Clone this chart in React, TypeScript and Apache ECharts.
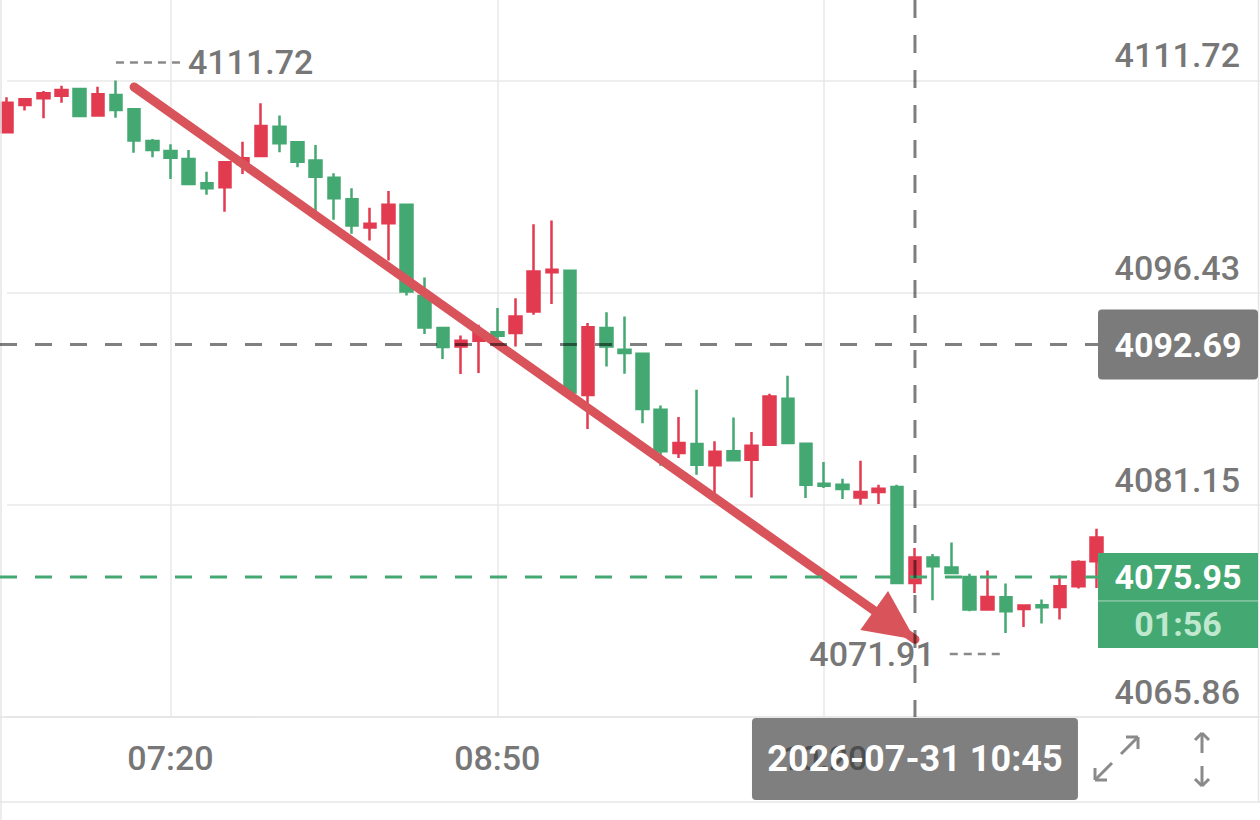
import React, { useEffect, useRef } from 'react';
import * as echarts from 'echarts';

const times = [
  '06:35', '06:40', '06:45', '06:50', '06:55', '07:00', '07:05', '07:10', '07:15', '07:20',
  '07:25', '07:30', '07:35', '07:40', '07:45', '07:50', '07:55', '08:00', '08:05', '08:10',
  '08:15', '08:20', '08:25', '08:30', '08:35', '08:40', '08:45', '08:50', '08:55', '09:00',
  '09:05', '09:10', '09:15', '09:20', '09:25', '09:30', '09:35', '09:40', '09:45', '09:50',
  '09:55', '10:00', '10:05', '10:10', '10:15', '10:20', '10:25', '10:30', '10:35', '10:40',
  '10:45', '10:50', '10:55', '11:00', '11:05', '11:10', '11:15', '11:20', '11:25', '11:30',
  '11:35', '11:40', '11:45', '11:50', '11:55', '12:00', '12:05', '12:10', '12:15', '12:20',
];

const opens = [
  4107.99, 4109.96, 4110.44, 4110.63, 4111.11, 4109.19, 4110.68, 4109.65, 4107.36, 4106.64,
  4106.07, 4104.32, 4104.03, 4105.71, 4106.28, 4108.39, 4107.27, 4105.95, 4104.72, 4103.17,
  4101.12, 4101.44, 4102.76, 4096.2, 4093.88, 4092.56, 4092.97, 4093.59, 4093.52, 4095.08,
  4097.91, 4098.01, 4089.06, 4093.88, 4092.32, 4092.03, 4088.0, 4084.88, 4085.53, 4083.99,
  4085.0, 4084.4, 4085.48, 4088.79, 4085.55, 4082.67, 4082.6, 4081.68, 4082.07, 4082.43,
  4075.52, 4077.36, 4076.64, 4075.95, 4073.6, 4074.48, 4073.65, 4073.91, 4073.79, 4075.28,
  4077.08,
];
const closes = [
  4110.12, 4110.37, 4110.8, 4111.04, 4109.16, 4110.73, 4109.6, 4107.39, 4106.72, 4106.16,
  4104.27, 4103.96, 4105.83, 4106.12, 4108.44, 4107.2, 4105.87, 4104.79, 4103.24, 4101.27,
  4101.39, 4102.76, 4096.51, 4093.92, 4092.51, 4092.97, 4093.64, 4093.33, 4094.72, 4097.96,
  4098.08, 4089.24, 4093.95, 4092.56, 4092.08, 4088.05, 4085.0, 4085.6, 4084.04, 4084.97,
  4084.35, 4085.41, 4088.96, 4085.6, 4082.6, 4082.53, 4082.29, 4082.07, 4082.31, 4075.52,
  4077.36, 4076.72, 4076.24, 4073.6, 4074.51, 4073.48, 4073.89, 4073.77, 4075.28, 4077.03,
  4078.8,
];
const lows = [
  4107.92, 4109.55, 4109.0, 4110.12, 4109.11, 4109.15, 4109.04, 4106.52, 4106.19, 4104.63,
  4104.2, 4103.48, 4102.27, 4104.99, 4106.25, 4106.55, 4105.47, 4102.04, 4101.68, 4100.67,
  4100.19, 4098.75, 4096.23, 4093.45, 4091.65, 4090.57, 4090.64, 4092.68, 4092.56, 4094.84,
  4095.61, 4088.96, 4086.61, 4091.12, 4090.59, 4087.03, 4083.97, 4084.52, 4083.32, 4082.0,
  4084.3, 4081.68, 4085.45, 4085.55, 4081.64, 4082.36, 4081.57, 4081.16, 4081.21, 4075.47,
  4074.8, 4074.27, 4076.2, 4073.48, 4073.53, 4071.91, 4072.35, 4072.59, 4072.88, 4075.11,
  4075.16,
];
const highs = [
  4110.51, 4110.45, 4110.96, 4111.35, 4111.16, 4111.27, 4111.72, 4109.67, 4107.51, 4107.13,
  4106.72, 4105.15, 4105.87, 4107.31, 4110.08, 4109.19, 4107.36, 4107.08, 4105.04, 4103.96,
  4102.56, 4103.76, 4102.81, 4097.52, 4093.9, 4093.35, 4094.12, 4095.32, 4096.04, 4101.37,
  4101.63, 4098.05, 4094.24, 4095.03, 4094.72, 4092.05, 4088.31, 4087.47, 4089.44, 4085.72,
  4087.44, 4086.39, 4089.15, 4090.45, 4085.6, 4084.23, 4083.03, 4084.33, 4082.6, 4082.6,
  4078.04, 4077.61, 4078.44, 4076.19, 4076.41, 4075.47, 4073.96, 4074.32, 4076.05, 4077.15,
  4079.43,
];

const yTicks = [4065.86, 4081.15, 4096.43, 4111.72];
const yMin = 4065.86;
const yMax = 4117.52;
const xTickLabels = ['07:20', '08:50', '10:20'];

const crossTime = '10:45';
const crossDate = '2026-07-31';
const crossPrice = 4092.69;
const lastPrice = 4075.95;
const countdown = '01:56';
const trendStart: [string, number] = ['07:10', 4111.25];
const trendEnd: [string, number] = ['10:45', 4071.45];

const FONT = "Roboto, 'Noto Sans', sans-serif";
const UP = '#e23b50';
const DOWN = '#44a872';
const LABEL = '#777777';
const GRIDC = '#e9e9e9';

export default function App() {
  const ref = useRef<HTMLDivElement>(null);

  useEffect(() => {
    if (!ref.current) return;
    const chart = echarts.init(ref.current, null, { renderer: 'svg' });
    const data = opens.map((o, i) => [o, closes[i], lows[i], highs[i]]);
    const showTick = (_i: number, v: string) => xTickLabels.includes(v);

    chart.setOption({
      animation: false,
      backgroundColor: '#ffffff',
      grid: { left: 7, right: 0, top: 0, bottom: 103 },
      xAxis: {
        type: 'category',
        data: times,
        boundaryGap: false,
        axisLine: { show: true, lineStyle: { color: '#e4e4e4', width: 1.5 } },
        axisTick: { show: false },
        axisLabel: {
          interval: showTick,
          color: LABEL,
          fontFamily: FONT,
          fontSize: 34,
          fontWeight: 500,
          margin: 24,
        },
        splitLine: { show: true, interval: showTick, lineStyle: { color: GRIDC, width: 1.5 } },
      },
      yAxis: {
        type: 'value',
        position: 'right',
        min: yMin,
        max: yMax,
        axisLine: { show: false },
        axisTick: { show: false, customValues: yTicks },
        axisLabel: {
          customValues: yTicks,
          inside: true,
          margin: 20,
          verticalAlign: 'bottom',
          padding: [0, 0, 8, 0],
          color: LABEL,
          fontFamily: FONT,
          fontSize: 34,
          fontWeight: 500,
          formatter: (v: number) => v.toFixed(2),
        },
        splitLine: { show: true, lineStyle: { color: GRIDC, width: 1.5 } },
      },
      series: [
        {
          type: 'candlestick',
          data,
          barWidth: 12,
          clip: false,
          itemStyle: {
            color: UP,
            color0: DOWN,
            borderColor: UP,
            borderColor0: DOWN,
            borderWidth: 2.5,
          },
          markLine: {
            silent: true,
            animation: false,
            label: { show: false },
            symbol: ['none', 'triangle'],
            lineStyle: { color: '#d9535b', width: 9, type: 'solid', cap: 'round', opacity: 1 },
            data: [
              [
                { coord: trendStart, symbol: 'none' },
                { coord: trendEnd, symbol: 'triangle', symbolSize: [48, 50], symbolOffset: [0, 25] },
              ],
            ],
          },
        },
      ],
    });

    const px = (t: string) => chart.convertToPixel({ xAxisIndex: 0 }, t) as unknown as number;
    const py = (v: number) => chart.convertToPixel({ yAxisIndex: 0 }, v) as unknown as number;

    const xCross = px(crossTime);
    const yCross = py(crossPrice);
    const yLast = py(lastPrice);
    const yBottom = py(yMin);

    const maxHigh = Math.max(...highs);
    const maxIdx = highs.indexOf(maxHigh);
    const minLow = Math.min(...lows);
    const minIdx = lows.indexOf(minLow);
    const xHi = px(times[maxIdx]);
    const yHi = py(maxHigh);
    const xLo = px(times[minIdx]);
    const yLo = py(minLow);

    const boxX = 1098;
    const boxW = 160;

    const txt = (text: string, x: number, y: number, o: any = {}) => ({
      type: 'text',
      z: 120,
      x,
      y,
      style: {
        text,
        fill: o.fill || LABEL,
        fontFamily: FONT,
        fontSize: o.size || 34,
        fontWeight: o.weight || 500,
        align: o.align || 'center',
        textAlign: o.align || 'center',
        verticalAlign: 'middle',
        textVerticalAlign: 'middle',
      },
    });
    const ln = (x1: number, y1: number, x2: number, y2: number, stroke: string, lineWidth: number, lineDash?: number[], z = 100) => ({
      type: 'line',
      z,
      shape: { x1, y1, x2, y2 },
      style: { stroke, lineWidth, lineDash: lineDash || null, lineCap: 'butt' },
    });
    const icon = '#8a8a8a';

    chart.setOption({
      graphic: [
        // frame
        ln(1, 0, 1, 820, '#e6e6e6', 1.5, undefined, 90),
        ln(1258.5, 0, 1258.5, 802, '#e6e6e6', 1.5, undefined, 90),
        ln(0, 802, 1260, 802, '#e6e6e6', 1.5, undefined, 90),
        ln(0, yBottom, 7, yBottom, '#e4e4e4', 1.5, undefined, 90),
        // crosshair & last price lines
        ln(0, yCross, boxX, yCross, 'rgba(0,0,0,0.5)', 3, [17, 18]),
        ln(0, yLast, boxX, yLast, DOWN, 3, [17, 18]),
        ln(xCross, 0, xCross, yBottom, 'rgba(0,0,0,0.5)', 3, [18, 17]),
        // max / min markers
        ln(xHi, yHi - 18, xHi + 65, yHi - 18, '#8a8a8a', 2.5, [8, 6]),
        txt(maxHigh.toFixed(2), xHi + 72, yHi - 18, { align: 'left' }),
        ln(xLo - 56, yLo + 21, xLo - 6, yLo + 21, '#8a8a8a', 2.5, [8, 6]),
        txt(minLow.toFixed(2), xLo - 71, yLo + 21, { align: 'right' }),
        // crosshair price box
        { type: 'rect', z: 110, shape: { x: boxX, y: yCross - 35, width: boxW, height: 70, r: 4 }, style: { fill: '#7b7b7b' } },
        txt(crossPrice.toFixed(2), boxX + boxW / 2, yCross, { fill: '#ffffff', weight: 'bold' }),
        // last price box
        { type: 'rect', z: 110, shape: { x: boxX, y: yLast - 24, width: boxW, height: 95, r: 0 }, style: { fill: DOWN } },
        ln(boxX, yLast + 24, boxX + boxW, yLast + 24, 'rgba(255,255,255,0.55)', 1, undefined, 115),
        txt(lastPrice.toFixed(2), boxX + boxW / 2, yLast, { fill: '#ffffff', weight: 'bold' }),
        txt(countdown, boxX + boxW / 2, yLast + 47, { fill: '#bfe8cf', weight: 'bold' }),
        // time box
        { type: 'rect', z: 110, shape: { x: xCross - 163, y: yBottom + 1, width: 326, height: 82, r: 4 }, style: { fill: 'rgba(55,55,55,0.64)' } },
        txt(`${crossDate} ${crossTime}`, xCross, yBottom + 42, { fill: '#ffffff', weight: 'bold', size: 36 }),
        // expand icon
        ln(1121, 754, 1138, 737, icon, 3),
        ln(1138, 737, 1126, 737, icon, 3),
        ln(1138, 737, 1138, 749, icon, 3),
        ln(1112, 763, 1095, 780, icon, 3),
        ln(1095, 780, 1107, 780, icon, 3),
        ln(1095, 780, 1095, 768, icon, 3),
        // vertical arrows icon
        ln(1202, 733, 1202, 753, icon, 3),
        ln(1202, 733, 1195, 740, icon, 3),
        ln(1202, 733, 1209, 740, icon, 3),
        ln(1202, 766, 1202, 786, icon, 3),
        ln(1202, 786, 1195, 779, icon, 3),
        ln(1202, 786, 1209, 779, icon, 3),
      ],
    });

    return () => chart.dispose();
  }, []);

  return (
    <div
      ref={ref}
      style={{ position: 'fixed', left: 0, top: 0, width: 1260, height: 820, background: '#ffffff' }}
    />
  );
}
